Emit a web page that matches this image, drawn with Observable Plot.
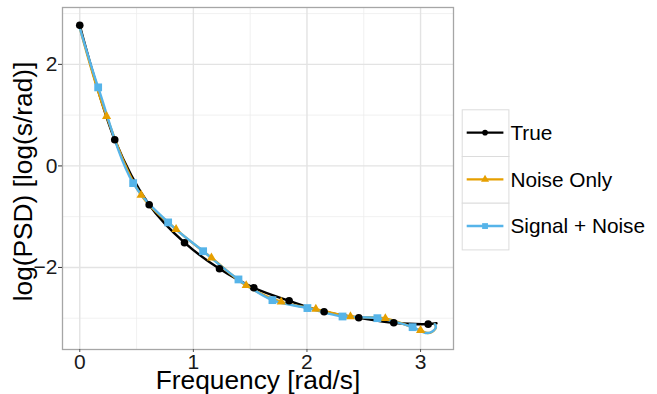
<!DOCTYPE html>
<html><head><meta charset="utf-8">
<script src="https://cdn.jsdelivr.net/npm/d3@7"></script>
<script src="https://cdn.jsdelivr.net/npm/@observablehq/plot@0.6"></script>
<style>
body{margin:0;background:#fff;}
#wrap{position:relative;width:657px;height:394px;font-family:"Liberation Sans",Arial,sans-serif;}
#wrap svg{display:block;}
#legend{position:absolute;left:0;top:0;}
</style></head><body><div id="wrap"></div>
<script>
// ---- series meta ----
const seriesNames = ["True", "Noise Only", "Signal + Noise"];
const seriesColors = ["#000000", "#E69F00", "#56B4E9"];
const seriesSymbols = ["circle", "triangle", "square"];

// ---- True ----
const trueHeadFreq = [];
const trueHeadPsd = [];
const trueFreq = [0, 0.308, 0.611, 0.922, 1.23, 1.532, 1.843, 2.151, 2.456, 2.764, 3.067];
const truePsd = [2.77, 0.516, -0.765, -1.513, -2.026, -2.40, -2.656, -2.873, -2.99, -3.09, -3.117];
const trueTailFreq = [3.14];
const trueTailPsd = [-3.10];

// ---- Noise Only ----
const noiseHeadFreq = [0];
const noiseHeadPsd = [2.72];
const noiseFreq = [0.236, 0.540, 0.848, 1.159, 1.465, 1.773, 2.078, 2.383, 2.69, 3.0];
const noisePsd = [0.975, -0.575, -1.25, -1.81, -2.355, -2.68, -2.82, -2.966, -3.005, -3.24];
const noiseTailFreq = [3.06, 3.10, 3.135, 3.125];
const noiseTailPsd = [-3.29, -3.27, -3.18, -3.12];

// ---- Signal + Noise ----
const signalHeadFreq = [0];
const signalHeadPsd = [2.72];
const signalFreq = [0.162, 0.47, 0.778, 1.086, 1.397, 1.696, 2.004, 2.313, 2.62, 2.93];
const signalPsd = [1.547, -0.339, -1.113, -1.68, -2.236, -2.644, -2.80, -2.966, -2.999, -3.176];
const signalTailFreq = [3.043, 3.10, 3.135, 3.125];
const signalTailPsd = [-3.29, -3.265, -3.176, -3.12];

// ---- axes ----
const xTicks = [0, 1, 2, 3];
const yTicks = [-2, 0, 2];
const xMinor = [0.5, 1.5, 2.5];
const yMinor = [-3, -1, 1, 3];
const xTitle = "Frequency [rad/s]";
const yTitle = "log(PSD) [log(s/rad)]";

const zip = (xs, ys) => xs.map((x, i) => ({x, y: ys[i]}));
const lines = [
  [...zip(trueHeadFreq, trueHeadPsd), ...zip(trueFreq, truePsd), ...zip(trueTailFreq, trueTailPsd)],
  [...zip(noiseHeadFreq, noiseHeadPsd), ...zip(noiseFreq, noisePsd), ...zip(noiseTailFreq, noiseTailPsd)],
  [...zip(signalHeadFreq, signalHeadPsd), ...zip(signalFreq, signalPsd), ...zip(signalTailFreq, signalTailPsd)]
];
const markers = [zip(trueFreq, truePsd), zip(noiseFreq, noisePsd), zip(signalFreq, signalPsd)];
const dotR = [3.8, 3.4, 4.4];

const font = "Liberation Sans, Arial, sans-serif";
const chart = Plot.plot({
  width: 657, height: 394,
  marginLeft: 62, marginRight: 204, marginTop: 7, marginBottom: 45,
  style: {fontFamily: font, background: "#fff", color: "#1a1a1a", overflow: "visible"},
  x: {domain: [-0.152, 3.29], label: null},
  y: {domain: [-3.616, 3.12], label: null},
  marks: [
    Plot.gridX(xMinor, {stroke: "#eeeeee", strokeOpacity: 1, strokeWidth: 0.8}),
    Plot.gridY(yMinor, {stroke: "#eeeeee", strokeOpacity: 1, strokeWidth: 0.8}),
    Plot.gridX(xTicks, {stroke: "#e3e3e3", strokeOpacity: 1, strokeWidth: 1.4}),
    Plot.gridY(yTicks, {stroke: "#e3e3e3", strokeOpacity: 1, strokeWidth: 1.4}),
    Plot.frame({stroke: "#a6a6a6", strokeWidth: 1.3}),
    ...lines.map((d, i) => Plot.line(d, {x: "x", y: "y", stroke: seriesColors[i], strokeWidth: 2.4, curve: "catmull-rom"})),
    ...markers.map((d, i) => Plot.dot(d, {x: "x", y: "y", fill: seriesColors[i], stroke: "none", symbol: seriesSymbols[i], r: dotR[i]})),
    Plot.axisX({ticks: xTicks, tickFormat: d3.format("d"), tickSize: 3, tickPadding: 2, fontSize: 21, label: null, stroke: "#555", fill: "#1a1a1a"}),
    Plot.axisY({ticks: yTicks, tickFormat: d3.format("d"), tickSize: 4, tickPadding: 1, fontSize: 21, label: null, stroke: "#333", fill: "#1a1a1a"}),
    Plot.text([xTitle], {frameAnchor: "bottom", dy: 39, lineAnchor: "bottom", textAnchor: "middle", fontSize: 26.3, fill: "#000"}),
    Plot.text([yTitle], {frameAnchor: "left", rotate: -90, dx: -31, dy: 3, lineAnchor: "bottom", textAnchor: "middle", fontSize: 26.3, fill: "#000"})
  ]
});
const wrap = document.getElementById("wrap");
wrap.appendChild(chart);

// ---- legend ----
const lg = d3.select(wrap).append("svg").attr("id", "legend")
  .attr("width", 657).attr("height", 394);
const bx = 461.7, by = 109.3, bs = 46.7;
const legSize = {circle: 25, triangle: 28, square: 34};
const symMap = {circle: d3.symbolCircle, triangle: d3.symbolTriangle, square: d3.symbolSquare};
seriesNames.forEach((name, i) => {
  const g = lg.append("g").attr("transform", `translate(${bx},${by + i * bs})`);
  g.append("rect").attr("x", 0.5).attr("y", 0.5).attr("width", bs).attr("height", bs)
    .attr("fill", "#fff").attr("stroke", "#dcdcdc").attr("stroke-width", 1);
  g.append("line").attr("x1", 5).attr("x2", bs - 5).attr("y1", bs / 2).attr("y2", bs / 2)
    .attr("stroke", seriesColors[i]).attr("stroke-width", 2.4);
  g.append("path").attr("transform", `translate(${bs / 2},${bs / 2})`)
    .attr("d", d3.symbol(symMap[seriesSymbols[i]], legSize[seriesSymbols[i]])())
    .attr("fill", seriesColors[i]);
  g.append("text").attr("x", bs + 2).attr("y", bs / 2).attr("dy", "0.35em")
    .attr("font-family", font).attr("font-size", 20.8).attr("fill", "#000").text(name);
});
</script></body></html>
